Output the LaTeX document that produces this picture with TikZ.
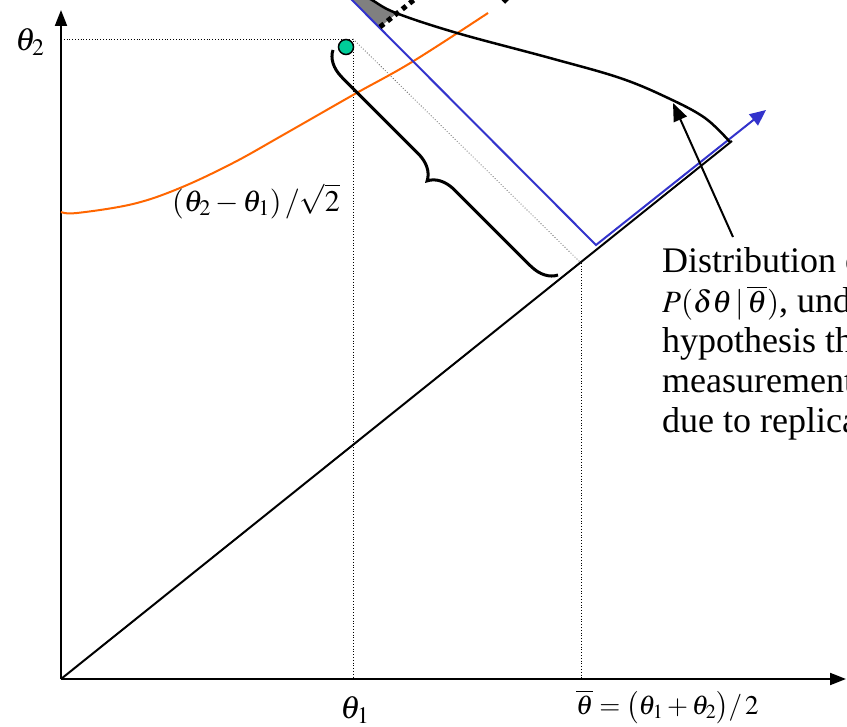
\documentclass[tikz,border=0pt]{standalone}
\usepackage{mathptmx}
\usepackage{fontspec}
\setmainfont{Liberation Serif}
\usetikzlibrary{arrows.meta,decorations.pathreplacing,calc}
\definecolor{myorange}{RGB}{255,102,0}
\definecolor{myblue}{RGB}{51,51,204}
\definecolor{myteal}{RGB}{0,204,153}
\definecolor{mygray}{RGB}{128,128,128}
\tikzset{
  axis/.style={line width=2pt,-{Triangle[length=16pt,width=12pt]}},
  guide/.style={line width=0.8pt,dotted},
  lbl/.style={inner sep=0pt,font=\fontsize{32}{38}\selectfont},
  txt/.style={inner sep=0pt,anchor=base west,font=\fontsize{36}{40}\selectfont},
  thickdots/.style={line width=5pt,dash pattern=on 5pt off 4.5pt}
}
\begin{document}
\begin{tikzpicture}[x=1pt,y=-1pt]
\clip (0,0) rectangle (847,727);
\fill[white] (0,0) rectangle (847,727);
% key points
\coordinate (O) at (61,679);
\coordinate (Ytip) at (61,10);
\coordinate (Xtip) at (846,679);
\coordinate (Dend) at (732,141);
\coordinate (T2) at (61,39);
\coordinate (C) at (353,39);
\coordinate (T1) at (353,679);
\coordinate (M) at (581,263);
\coordinate (Mb) at (581,679);
\coordinate (Btop) at (342,-10);
\coordinate (Bcorner) at (596,245);
\coordinate (Btip) at (766,110);
% gray wedge
\fill[mygray] (342,-10) -- (380,27) -- (396,14) -- (372,0) -- (362,-10) -- cycle;
% axes
\draw[axis] (O) -- (Ytip);
\draw[axis] (O) -- (Xtip);
% diagonal
\draw[line width=2pt] (O) -- (Dend);
% guides
\draw[guide] (T2) -- (C) -- (T1);
\draw[guide] (M) -- (Mb);
\draw[guide,gray!70!black] (C) -- (M);
% orange curve
\draw[myorange,line width=2pt] plot[smooth,tension=0.6] coordinates {(61,212) (77,213) (133,204) (180,188) (233,163) (283,135) (353,95) (412,62) (488,13)};
% blue line with arrow
\draw[myblue,line width=2pt,-{Triangle[length=16pt,width=14pt]}] (Btop) -- (Bcorner) -- (Btip);
% thick dotted lines
\draw[thickdots] (380,27) -- (470,-45);
\draw[thickdots] (507,2) -- (497,-8);
% distribution curve
\draw[line width=2.5pt] plot[smooth,tension=0.6] coordinates {(358,-8) (372,0) (396,13) (457,33) (550,58) (620,78) (668,98) (705,118) (730,142)};
% point
\node[circle,draw,line width=1.5pt,fill=myteal,minimum size=15pt,inner sep=0pt] (P) at (346,47) {};
% brace
\draw[line width=3pt,decorate,decoration={brace,amplitude=26pt}] (558,275) -- (333,50);
% labels
\node[lbl] (l2) at (30,42) {$\theta_2$};
\node[lbl] (l1) at (355,710) {$\theta_1$};
\node[inner sep=0pt,anchor=west,font=\fontsize{27}{32}\selectfont] (lb) at (576,707) {$\overline{\theta}=\bigl(\theta_1+\theta_2\bigr)/\,2$};
\node[inner sep=0pt,font=\fontsize{30}{34}\selectfont] (ld) at (256,201) {$(\theta_2-\theta_1)\,/\sqrt{2}$};
% text block
\node[txt] (t1) at (662,273) {Distribution of};
\node[txt] (t2) at (662,313) {{\fontsize{31}{40}\selectfont$P(\delta\theta\,|\,\overline{\theta})$}, under the};
\node[txt] (t3) at (662,353) {hypothesis that};
\node[txt] (t4) at (662,393) {measurements};
\node[txt] (t5) at (662,433) {due to replicas};
\coordinate (As) at (733,237);
\coordinate (At) at (673,103);
\draw[line width=2pt,-{Triangle[length=18pt,width=14pt]}] (As) -- (At);
\end{tikzpicture}
\end{document}
